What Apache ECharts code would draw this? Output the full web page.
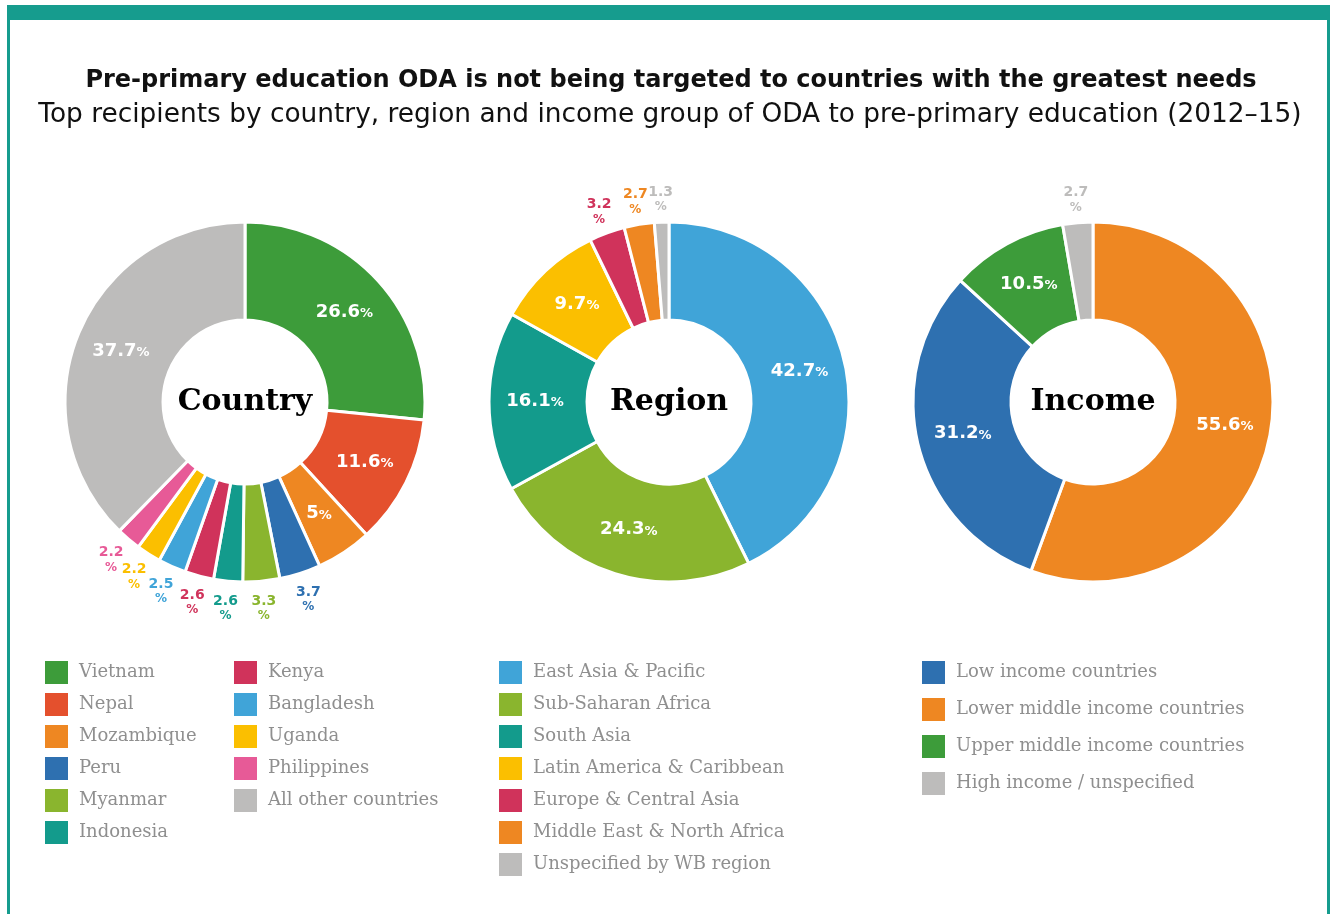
<!DOCTYPE html>
<html>
<head>
<meta charset="utf-8">
<title>Pre-primary education ODA</title>
<script src="https://cdn.jsdelivr.net/npm/echarts@6/dist/echarts.min.js"></script>
<style>
  html, body { margin: 0; padding: 0; background: #ffffff; }
  #chart { width: 1336px; height: 914px; }
</style>
</head>
<body>
<div id="chart"></div>
<script>
// Shares of ODA to pre-primary education, 2012–15 (%)
const countryNames = ['Vietnam', 'Nepal', 'Mozambique', 'Peru', 'Myanmar', 'Indonesia',
  'Kenya', 'Bangladesh', 'Uganda', 'Philippines', 'All other countries'];
const countryValues = [26.6, 11.6, 5, 3.7, 3.3, 2.6, 2.6, 2.5, 2.2, 2.2, 37.7];
const countryColors = ['#3d9c3a', '#e4502d', '#ee8722', '#2e70b0', '#8ab52e', '#139b8c',
  '#d0335b', '#40a4d8', '#fbbf00', '#e75a97', '#bdbcbb'];

const regionNames = ['East Asia & Pacific', 'Sub-Saharan Africa', 'South Asia',
  'Latin America & Caribbean', 'Europe & Central Asia', 'Middle East & North Africa',
  'Unspecified by WB region'];
const regionValues = [42.7, 24.3, 16.1, 9.7, 3.2, 2.7, 1.3];
const regionColors = ['#40a4d8', '#8ab52e', '#139b8c', '#fbbf00', '#d0335b', '#ee8722', '#bdbcbb'];

// Slice order runs clockwise from 12 o'clock
const incomeNames = ['Lower middle income countries', 'Low income countries',
  'Upper middle income countries', 'High income / unspecified'];
const incomeValues = [55.6, 31.2, 10.5, 2.7];
const incomeColors = ['#ee8722', '#2e70b0', '#3d9c3a', '#bdbcbb'];
const incomeLegendOrder = ['Low income countries', 'Lower middle income countries',
  'Upper middle income countries', 'High income / unspecified'];

const titleLine1 = 'Pre-primary education ODA is not being targeted to countries with the greatest needs';
const titleLine2 = 'Top recipients by country, region and income group of ODA to pre-primary education (2012\u201315)';

const SMALL = 4; // slices below this share get their label outside the ring
const SANS = '"DejaVu Sans", sans-serif';
const SLAB = '"DejaVu Serif", serif';

function donut(names, values, colors, cx, outerLabelRadius) {
  const main = {
    type: 'pie',
    center: [cx, 402],
    radius: [82, 180],
    startAngle: 90,
    clockwise: true,
    avoidLabelOverlap: false,
    silent: true,
    itemStyle: { borderColor: '#ffffff', borderWidth: 3 },
    labelLayout: { hideOverlap: false },
    label: {
      show: true,
      position: 'inside',
      formatter: p => p.value < SMALL ? '' : '{v|' + p.value + '}{p|%}',
      rich: {
        v: { color: '#ffffff', fontFamily: SANS, fontWeight: 'bold', fontSize: 18 },
        p: { color: '#ffffff', fontFamily: SANS, fontWeight: 'bold', fontSize: 13, padding: [3, 0, 0, 0] }
      }
    },
    labelLine: { show: false },
    data: names.map((n, i) => ({ name: n, value: values[i], itemStyle: { color: colors[i] } }))
  };
  // Transparent companion ring that carries the labels of the thin slices
  const outer = {
    type: 'pie',
    center: [cx, 402],
    radius: [180, outerLabelRadius],
    startAngle: 90,
    clockwise: true,
    avoidLabelOverlap: false,
    silent: true,
    legendHoverLink: false,
    itemStyle: { color: 'rgba(0,0,0,0)', borderWidth: 0 },
    labelLayout: { hideOverlap: false },
    label: { show: true, position: 'inside' },
    labelLine: { show: false },
    data: names.map((n, i) => ({
      name: n,
      value: values[i],
      itemStyle: { color: 'rgba(0,0,0,0)' },
      label: {
        formatter: p => p.value < SMALL ? '{v|' + p.value + '}\n{p|%}' : '',
        rich: {
          v: { color: colors[i], fontFamily: SANS, fontWeight: 'bold', fontSize: 14, lineHeight: 16, align: 'center' },
          p: { color: colors[i], fontFamily: SANS, fontWeight: 'bold', fontSize: 12, lineHeight: 14, align: 'center' }
        }
      }
    }))
  };
  return [main, outer];
}

function legendBlock(names, left, gap) {
  return {
    orient: 'vertical',
    left: left,
    top: 661,
    padding: 0,
    itemWidth: 23,
    itemHeight: 23,
    itemGap: gap,
    icon: 'rect',
    selectedMode: false,
    itemStyle: { borderWidth: 0 },
    textStyle: { color: '#8f8f8f', fontFamily: SLAB, fontSize: 18, padding: [0, 0, 0, 6] },
    data: names
  };
}

const chart = echarts.init(document.getElementById('chart'), null, { renderer: 'canvas' });

chart.setOption({
  backgroundColor: '#ffffff',
  animation: false,
  title: [
    {
      text: titleLine1,
      left: 666, top: 64, textAlign: 'center',
      textStyle: { fontFamily: SANS, fontWeight: 'bold', fontSize: 24, color: '#111111' }
    },
    {
      text: titleLine2,
      left: 665, top: 97, textAlign: 'center',
      textStyle: { fontFamily: SANS, fontWeight: 'normal', fontSize: 26.4, color: '#111111' }
    }
  ],
  legend: [
    legendBlock(countryNames.slice(0, 6), 45, 9),
    legendBlock(countryNames.slice(6), 234, 9),
    legendBlock(regionNames, 499, 9),
    legendBlock(incomeLegendOrder, 922, 14)
  ],
  graphic: [
    { type: 'rect', shape: { x: 7, y: 5, width: 1323, height: 15 }, style: { fill: '#169c8e' } },
    { type: 'rect', shape: { x: 7, y: 5, width: 3, height: 909 }, style: { fill: '#169c8e' } },
    { type: 'rect', shape: { x: 1327, y: 5, width: 3, height: 909 }, style: { fill: '#169c8e' } },
    { type: 'text', x: 245, y: 402, style: { text: 'Country', x: 0, y: 0, align: 'center', verticalAlign: 'middle', fontFamily: SLAB, fontWeight: 'bold', fontSize: 30, fill: '#000000' } },
    { type: 'text', x: 669, y: 402, style: { text: 'Region', x: 0, y: 0, align: 'center', verticalAlign: 'middle', fontFamily: SLAB, fontWeight: 'bold', fontSize: 30, fill: '#000000' } },
    { type: 'text', x: 1093, y: 402, style: { text: 'Income', x: 0, y: 0, align: 'center', verticalAlign: 'middle', fontFamily: SLAB, fontWeight: 'bold', fontSize: 30, fill: '#000000' } }
  ],
  series: [
    ...donut(countryNames, countryValues, countryColors, 245, 228),
    ...donut(regionNames, regionValues, regionColors, 669, 220),
    ...donut(incomeNames, incomeValues, incomeColors, 1093, 220)
  ]
});
</script>
</body>
</html>
